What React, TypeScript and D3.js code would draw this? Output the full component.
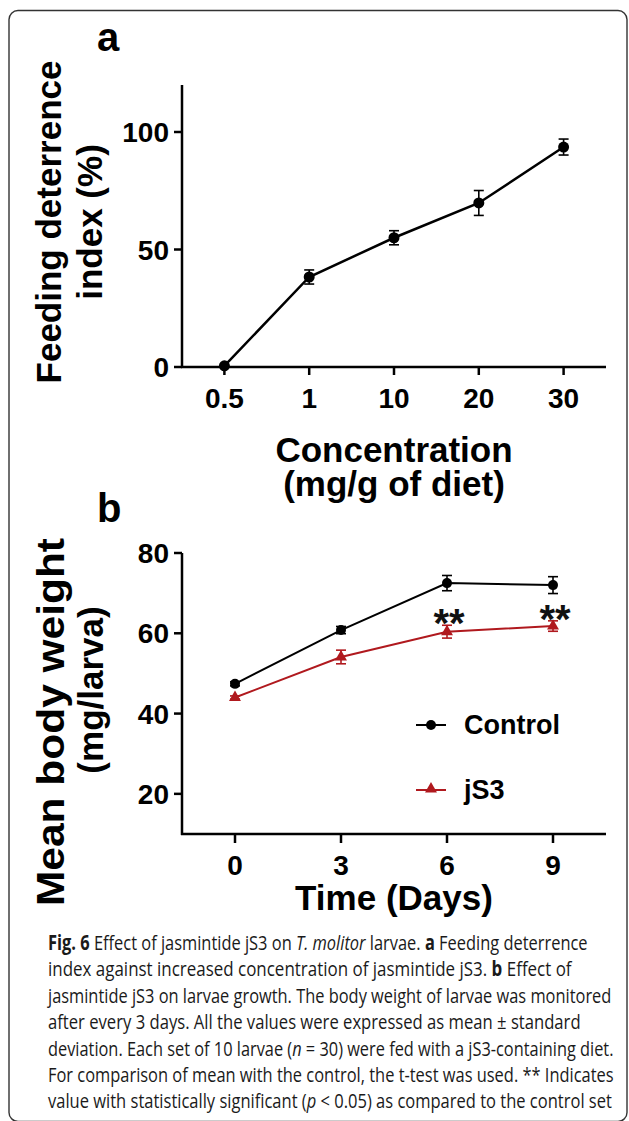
import React, { useLayoutEffect, useRef, useState } from "react";
import * as d3 from "d3";

// ---------- data ----------
const concLabels = ["0.5", "1", "10", "20", "30"];
const feedingIndex = [0.5, 38.3, 55.0, 69.8, 93.6];
const feedingErr = [0, 3.0, 3.0, 5.3, 3.4];
const yTicksA = [0, 50, 100];

const days = [0, 3, 6, 9];
const controlWeight = [47.4, 60.8, 72.5, 72.0];
const controlErr = [0.5, 0.9, 1.9, 2.1];
const js3Weight = [44.0, 54.1, 60.4, 61.8];
const js3Err = [0.4, 1.7, 1.6, 1.3];
const significant = [false, false, true, true];
const yTicksB = [20, 40, 60, 80];

const seriesNames = ["Control", "jS3"];

type Seg = { t: string; b?: boolean; i?: boolean };
const captionLines: Seg[][] = [
  [{ t: "Fig. 6", b: true }, { t: " Effect of jasmintide jS3 on " }, { t: "T. molitor", i: true }, { t: " larvae. " }, { t: "a", b: true }, { t: " Feeding deterrence" }],
  [{ t: "index against increased concentration of jasmintide jS3. " }, { t: "b", b: true }, { t: " Effect of" }],
  [{ t: "jasmintide jS3 on larvae growth. The body weight of larvae was monitored" }],
  [{ t: "after every 3 days. All the values were expressed as mean ± standard" }],
  [{ t: "deviation. Each set of 10 larvae (" }, { t: "n", i: true }, { t: " = 30) were fed with a jS3-containing diet." }],
  [{ t: "For comparison of mean with the control, the t-test was used. ** Indicates" }],
  [{ t: "value with statistically significant (" }, { t: "p", i: true }, { t: " < 0.05) as compared to the control set" }],
];
const captionWidths = [540, 524, 564, 533, 566, 566, 564];

const RED = "#b0191e";
const FONT = "'Liberation Sans', Arial, Helvetica, sans-serif";

export default function App() {
  const capRefs = useRef<(SVGTextElement | null)[]>([]);
  const [capScale, setCapScale] = useState<number[]>(captionWidths.map(() => 1));

  useLayoutEffect(() => {
    const s = captionWidths.map((w, i) => {
      const el = capRefs.current[i];
      if (!el) return 1;
      const len = el.getComputedTextLength();
      return len > 0 ? w / len : 1;
    });
    setCapScale(s);
  }, []);

  // ----- panel a scales -----
  const xA = d3.scalePoint<string>().domain(concLabels).range([182, 606]).padding(0.5);
  const yA = d3.scaleLinear().domain([0, 120]).range([367, 85]);
  const lineA = d3
    .line<number>()
    .x((_, i) => xA(concLabels[i]) as number)
    .y((d) => yA(d));

  // ----- panel b scales -----
  const xB = d3.scaleLinear().domain([-1.5, 10.5]).range([182, 606]);
  const yB = d3.scaleLinear().domain([10, 80]).range([834, 553]);
  const lineB = d3
    .line<number>()
    .x((_, i) => xB(days[i]))
    .y((d) => yB(d));
  const tri = d3.symbol().type(d3.symbolTriangle).size(62)() as string;

  const errBar = (x: number, y1: number, y2: number, color: string, key: string, cap = 5) => (
    <g key={key} stroke={color} strokeWidth={1.6} fill="none">
      <line x1={x} x2={x} y1={y1} y2={y2} />
      <line x1={x - cap} x2={x + cap} y1={y1} y2={y1} />
      <line x1={x - cap} x2={x + cap} y1={y2} y2={y2} />
    </g>
  );

  return (
    <svg
      width={629}
      height={1121}
      style={{ position: "absolute", left: 0, top: 0, background: "#fff" }}
      fontFamily={FONT}
    >
      <rect x={0} y={0} width={629} height={1121} fill="#fff" />
      {/* frame */}
      <rect x={9} y={10.5} width={618} height={1111} rx={9} ry={9} fill="none" stroke="#333" strokeWidth={1.4} />

      {/* ================= panel a ================= */}
      <text x={97} y={51} fontSize={40} fontWeight="bold">a</text>

      {/* y axis */}
      <line x1={182} x2={182} y1={85} y2={367} stroke="#000" strokeWidth={2.5} />
      {yTicksA.map((t) => (
        <g key={"ya" + t}>
          <line x1={174} x2={182} y1={yA(t)} y2={yA(t)} stroke="#000" strokeWidth={2.5} />
          <text x={169} y={yA(t) + 10} fontSize={28} fontWeight="bold" textAnchor="end">{t}</text>
        </g>
      ))}
      {/* x axis */}
      <line x1={181} x2={606} y1={367} y2={367} stroke="#000" strokeWidth={2.5} />
      {concLabels.map((c) => (
        <g key={"xa" + c}>
          <line x1={xA(c)} x2={xA(c)} y1={367} y2={375} stroke="#000" strokeWidth={2.5} />
          <text x={xA(c)} y={408} fontSize={28} fontWeight="bold" textAnchor="middle">{c}</text>
        </g>
      ))}
      <text x={394} y={462} fontSize={35} fontWeight="bold" textAnchor="middle">Concentration</text>
      <text x={394} y={496} fontSize={35} fontWeight="bold" textAnchor="middle">(mg/g of diet)</text>
      <text transform="translate(61,222) rotate(-90)" fontSize={35} fontWeight="bold" textAnchor="middle">Feeding deterrence</text>
      <text transform="translate(102,222) rotate(-90)" fontSize={35} fontWeight="bold" textAnchor="middle">index (%)</text>

      <path d={lineA(feedingIndex) as string} fill="none" stroke="#000" strokeWidth={2.5} />
      {feedingIndex.map((v, i) =>
        feedingErr[i] > 0
          ? errBar(xA(concLabels[i]) as number, yA(v + feedingErr[i]), yA(v - feedingErr[i]), "#000", "ea" + i)
          : null
      )}
      {feedingIndex.map((v, i) => (
        <circle key={"pa" + i} cx={xA(concLabels[i])} cy={yA(v)} r={5.5} fill="#000" />
      ))}

      {/* ================= panel b ================= */}
      <text x={97} y={522} fontSize={40} fontWeight="bold">b</text>

      <line x1={182} x2={182} y1={553} y2={835} stroke="#000" strokeWidth={2.5} />
      {yTicksB.map((t) => (
        <g key={"yb" + t}>
          <line x1={174} x2={182} y1={yB(t)} y2={yB(t)} stroke="#000" strokeWidth={2.5} />
          <text x={169} y={yB(t) + 10} fontSize={28} fontWeight="bold" textAnchor="end">{t}</text>
        </g>
      ))}
      <line x1={181} x2={606} y1={834} y2={834} stroke="#000" strokeWidth={2.5} />
      {days.map((d) => (
        <g key={"xb" + d}>
          <line x1={xB(d)} x2={xB(d)} y1={834} y2={843} stroke="#000" strokeWidth={2.5} />
          <text x={xB(d)} y={875} fontSize={28} fontWeight="bold" textAnchor="middle">{d}</text>
        </g>
      ))}
      <text x={394} y={910} fontSize={35} fontWeight="bold" textAnchor="middle">Time (Days)</text>
      <text transform="translate(64,722) rotate(-90)" fontSize={39} fontWeight="bold" textAnchor="middle" textLength={368} lengthAdjust="spacingAndGlyphs">Mean body weight</text>
      <text transform="translate(103,690) rotate(-90)" fontSize={35} fontWeight="bold" textAnchor="middle">(mg/larva)</text>

      {/* control */}
      <path d={lineB(controlWeight) as string} fill="none" stroke="#000" strokeWidth={2} />
      {controlWeight.map((v, i) =>
        errBar(xB(days[i]), yB(v + controlErr[i]), yB(v - controlErr[i]), "#000", "ec" + i)
      )}
      {controlWeight.map((v, i) => (
        <circle key={"pc" + i} cx={xB(days[i])} cy={yB(v)} r={5} fill="#000" />
      ))}
      {/* jS3 */}
      <path d={lineB(js3Weight) as string} fill="none" stroke={RED} strokeWidth={2} />
      {js3Weight.map((v, i) =>
        errBar(xB(days[i]), yB(v + js3Err[i]), yB(v - js3Err[i]), RED, "ej" + i)
      )}
      {js3Weight.map((v, i) => (
        <path key={"pj" + i} d={tri} transform={`translate(${xB(days[i])},${yB(v)})`} fill={RED} />
      ))}
      {significant.map((s, i) =>
        s ? (
          <text key={"s" + i} x={xB(days[i]) + 2} y={yB(js3Weight[i] + js3Err[i]) + 12} fontSize={40} fontWeight="bold" textAnchor="middle" fill="#111">**</text>
        ) : null
      )}

      {/* legend */}
      <line x1={416} x2={446} y1={725} y2={725} stroke="#000" strokeWidth={2} />
      <circle cx={431} cy={725} r={5} fill="#000" />
      <text x={464} y={734} fontSize={27} fontWeight="bold">{seriesNames[0]}</text>
      <line x1={416} x2={446} y1={790} y2={790} stroke={RED} strokeWidth={2} />
      <path d={tri} transform="translate(431,789)" fill={RED} />
      <text x={464} y={799} fontSize={27} fontWeight="bold">{seriesNames[1]}</text>

      {/* caption */}
      {captionLines.map((segs, li) => (
        <text
          key={"cap" + li}
          ref={(el) => {
            capRefs.current[li] = el;
          }}
          x={0}
          y={0}
          transform={`translate(48,${950 + li * 26.4}) scale(${capScale[li]},1)`}
          fontSize={20.5}
          fontFamily="'Open Sans', 'Noto Sans', sans-serif"
          fill="#1a1a1a"
        >
          {segs.map((s, si) => (
            <tspan key={si} fontWeight={s.b ? "bold" : "normal"} fontStyle={s.i ? "italic" : "normal"}>
              {s.t}
            </tspan>
          ))}
        </text>
      ))}
    </svg>
  );
}
